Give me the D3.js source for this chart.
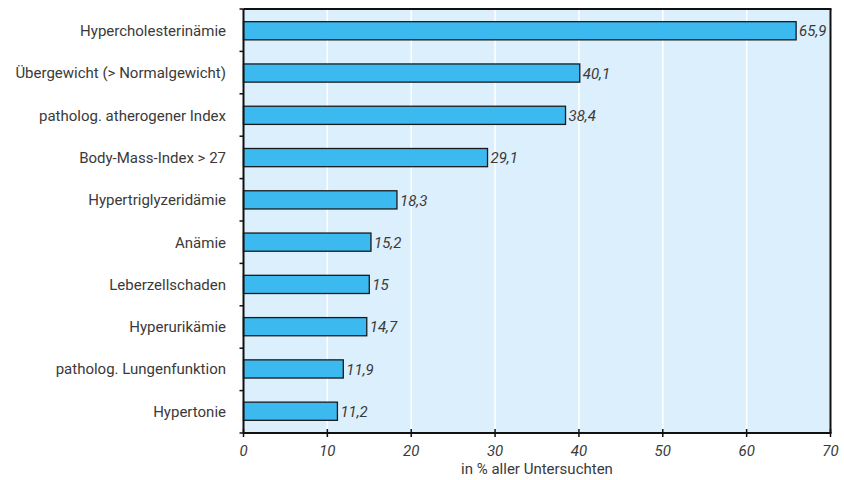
<!DOCTYPE html>
<html><head><meta charset="utf-8">
<script src="https://cdn.jsdelivr.net/npm/d3@7"></script>
<style>body{margin:0;background:#fff;} text{font-family:Roboto,sans-serif;}</style>
</head><body><svg id="c" width="844" height="480"></svg>
<script>
const categories = ["Hypercholesterinämie","Übergewicht (> Normalgewicht)","patholog. atherogener Index","Body-Mass-Index > 27","Hypertriglyzeridämie","Anämie","Leberzellschaden","Hyperurikämie","patholog. Lungenfunktion","Hypertonie"];
const values = [65.9,40.1,38.4,29.1,18.3,15.2,15,14.7,11.9,11.2];
const valueLabels = ["65,9","40,1","38,4","29,1","18,3","15,2","15","14,7","11,9","11,2"];
const xTicks = [0,10,20,30,40,50,60,70];
const xTitle = "in % aller Untersuchten";

const svg = d3.select("#c");
const m = {l:243.5, r:830.5, t:9, b:433};
const x = d3.scaleLinear().domain([0,70]).range([m.l, m.r]);
const y = d3.scaleBand().domain(categories).range([m.t, m.b]).paddingInner(0.57).paddingOuter(0.3);
const yb = d3.scaleBand().domain(categories).range([m.t, m.b]);

svg.append("rect").attr("x",m.l).attr("y",m.t).attr("width",m.r-m.l).attr("height",m.b-m.t).attr("fill","#dceffc");
svg.append("g").selectAll("line").data(xTicks.slice(1,-1)).join("line")
  .attr("x1",d=>x(d)).attr("x2",d=>x(d)).attr("y1",m.t).attr("y2",m.b)
  .attr("stroke","#fff").attr("stroke-width",1.5);

svg.append("g").selectAll("rect").data(values).join("rect")
  .attr("x",x(0)).attr("y",(d,i)=>y(categories[i])).attr("width",d=>x(d)-x(0)).attr("height",y.bandwidth())
  .attr("fill","#3cbaf0").attr("stroke","#1a1a1a").attr("stroke-width",1.3);

svg.append("g").selectAll("text").data(values).join("text")
  .attr("x",d=>x(d)+3).attr("y",(d,i)=>y(categories[i])+y.bandwidth()/2).attr("dy","0.38em")
  .attr("font-size",15).attr("font-style","italic").attr("fill","#3a3a3a").text((d,i)=>valueLabels[i]);

// borders
svg.append("line").attr("x1",m.l).attr("x2",m.r+1).attr("y1",m.t).attr("y2",m.t).attr("stroke","#111").attr("stroke-width",2);
svg.append("line").attr("x1",m.r).attr("x2",m.r).attr("y1",m.t).attr("y2",m.b).attr("stroke","#111").attr("stroke-width",2);

// y axis
const ya = svg.append("g").attr("transform",`translate(${m.l},0)`);
ya.append("line").attr("x1",0).attr("x2",0).attr("y1",m.t).attr("y2",m.b).attr("stroke","#111").attr("stroke-width",2);
const bounds = categories.map(c=>yb(c)).concat([m.b]);
ya.selectAll(".t").data(bounds).join("line").attr("x1",-4).attr("x2",0).attr("y1",d=>d).attr("y2",d=>d).attr("stroke","#111").attr("stroke-width",1.5);
svg.append("g").selectAll("text").data(categories).join("text")
  .attr("x",226).attr("y",d=>y(d)+y.bandwidth()/2).attr("dy","0.36em").attr("text-anchor","end")
  .attr("font-size",15).attr("fill","#3a3a3a").text(d=>d);

// x axis
const xa = svg.append("g").attr("transform",`translate(0,${m.b})`);
xa.append("line").attr("x1",m.l).attr("x2",m.r+1).attr("stroke","#111").attr("stroke-width",2);
xa.selectAll(".t").data(xTicks).join("line").attr("x1",d=>x(d)).attr("x2",d=>x(d)).attr("y1",-4).attr("y2",4).attr("stroke","#111").attr("stroke-width",1.5);
xa.selectAll("text").data(xTicks).join("text").attr("x",d=>x(d)).attr("y",23).attr("text-anchor","middle")
  .attr("font-size",15).attr("font-style","italic").attr("fill","#3a3a3a").text(d=>d);
svg.append("text").attr("x",(m.l+m.r)/2).attr("y",474).attr("text-anchor","middle").attr("font-size",15).attr("fill","#3a3a3a").text(xTitle);
</script></body></html>
